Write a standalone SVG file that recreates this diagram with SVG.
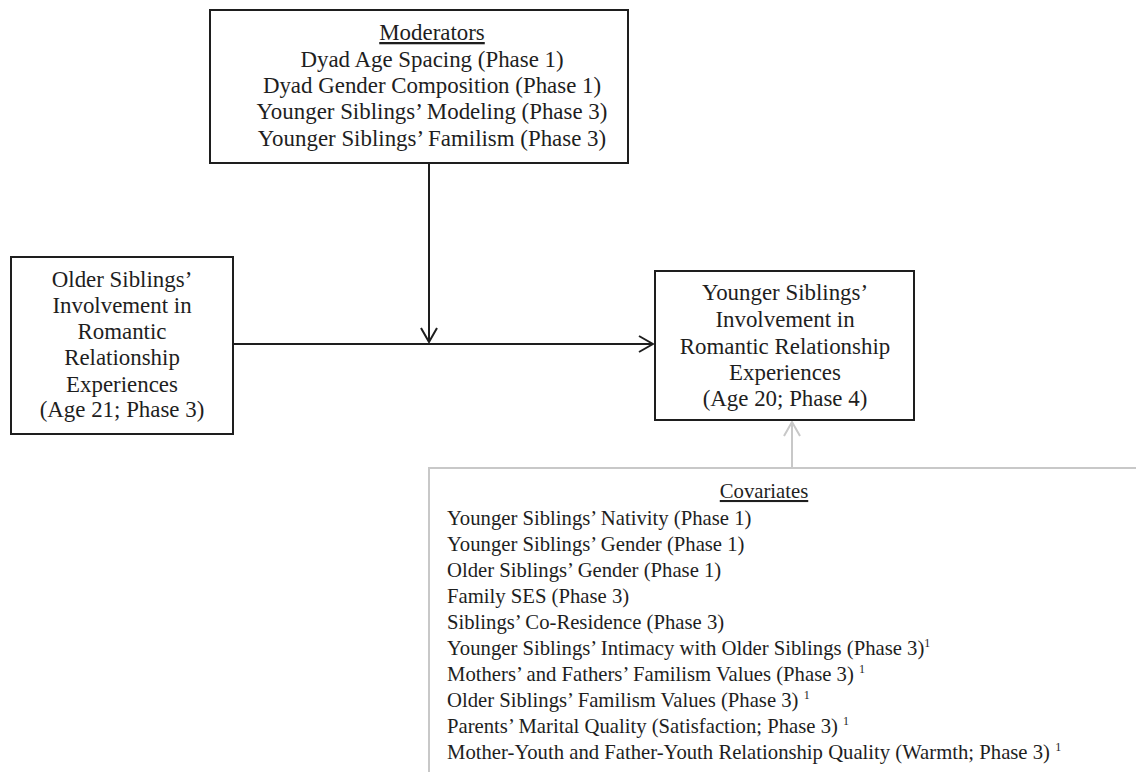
<svg xmlns="http://www.w3.org/2000/svg" width="1136" height="772" viewBox="0 0 1136 772">
<style>
text{font-family:"Liberation Serif","Times New Roman",serif;font-size:22.9px;fill:#1e1e1e}
.c{text-anchor:middle}
.cv{font-size:20.7px}
.box{fill:#fff;stroke:#1e1e1e;stroke-width:2}
.conn{fill:none;stroke:#1e1e1e;stroke-width:2}
.gray{fill:none;stroke:#c8c8c8;stroke-width:2}
.u{text-decoration:underline}
.sup{font-size:12px}
</style>
<defs>
<marker id="ah" viewBox="0 0 16 18" refX="15" refY="9" markerWidth="16" markerHeight="18" markerUnits="userSpaceOnUse" orient="auto">
<path d="M1,1 L15,9 L1,17" fill="none" stroke="#1e1e1e" stroke-width="2"/>
</marker>
<marker id="ahg" viewBox="0 0 16 18" refX="15" refY="9" markerWidth="16" markerHeight="18" markerUnits="userSpaceOnUse" orient="auto">
<path d="M1,1 L15,9 L1,17" fill="none" stroke="#c8c8c8" stroke-width="2"/>
</marker>
</defs>
<g id="moderators">
<rect class="box" x="210" y="10" width="418" height="153"/>
<text class="c u" x="432" y="40">Moderators</text>
<text class="c" x="432" y="67">Dyad Age Spacing (Phase 1)</text>
<text class="c" x="432" y="93">Dyad Gender Composition (Phase 1)</text>
<text class="c" x="432" y="119">Younger Siblings’ Modeling (Phase 3)</text>
<text class="c" x="432" y="146">Younger Siblings’ Familism (Phase 3)</text>
</g>
<g id="older">
<rect class="box" x="11" y="257" width="222" height="177"/>
<text class="c" x="122" y="287">Older Siblings’</text>
<text class="c" x="122" y="313">Involvement in</text>
<text class="c" x="122" y="339">Romantic</text>
<text class="c" x="122" y="365">Relationship</text>
<text class="c" x="122" y="392">Experiences</text>
<text class="c" x="122" y="417">(Age 21; Phase 3)</text>
</g>
<g id="younger">
<rect class="box" x="655" y="271" width="259" height="149"/>
<text class="c" x="785" y="300">Younger Siblings’</text>
<text class="c" x="785" y="327">Involvement in</text>
<text class="c" x="785" y="354">Romantic Relationship</text>
<text class="c" x="785" y="380">Experiences</text>
<text class="c" x="785" y="406">(Age 20; Phase 4)</text>
</g>
<g id="covariates">
<path class="gray" d="M429,772 L429,468 L1136,468"/>
<text class="c u cv" x="764" y="498">Covariates</text>
<text class="cv" x="447" y="525">Younger Siblings’ Nativity (Phase 1)</text>
<text class="cv" x="447" y="551">Younger Siblings’ Gender (Phase 1)</text>
<text class="cv" x="447" y="577">Older Siblings’ Gender (Phase 1)</text>
<text class="cv" x="447" y="603">Family SES (Phase 3)</text>
<text class="cv" x="447" y="629">Siblings’ Co-Residence (Phase 3)</text>
<text class="cv" x="447" y="655">Younger Siblings’ Intimacy with Older Siblings (Phase 3)<tspan class="sup" dy="-8">1</tspan></text>
<text class="cv" x="447" y="681">Mothers’ and Fathers’ Familism Values (Phase 3) <tspan class="sup" dy="-8">1</tspan></text>
<text class="cv" x="447" y="707">Older Siblings’ Familism Values (Phase 3) <tspan class="sup" dy="-8">1</tspan></text>
<text class="cv" x="447" y="733">Parents’ Marital Quality (Satisfaction; Phase 3) <tspan class="sup" dy="-8">1</tspan></text>
<text class="cv" x="447" y="759">Mother-Youth and Father-Youth Relationship Quality (Warmth; Phase 3) <tspan class="sup" dy="-8">1</tspan></text>
</g>
<g id="connectors">
<line class="conn" x1="233" y1="344" x2="653" y2="344" marker-end="url(#ah)"/>
<line class="conn" x1="429" y1="163" x2="429" y2="342" marker-end="url(#ah)"/>
<line class="gray" x1="792" y1="468" x2="792" y2="422" marker-end="url(#ahg)"/>
</g>
</svg>
